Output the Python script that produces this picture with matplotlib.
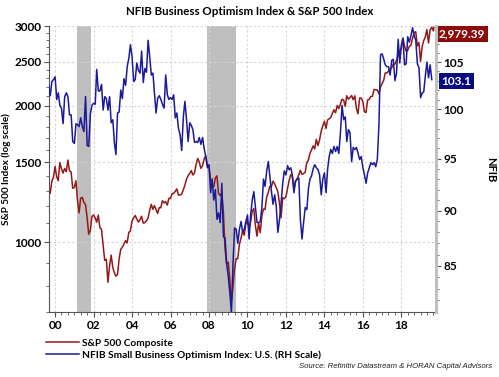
import pandas as pd
import matplotlib
matplotlib.use('Agg')
import matplotlib.pyplot as plt
import matplotlib.dates as mdates
import matplotlib.transforms as mtransforms
from matplotlib.ticker import FixedLocator, NullFormatter, FuncFormatter
from matplotlib.lines import Line2D

plt.rcParams['font.family'] = ['Lato', 'DejaVu Sans']

# S&P 500 month-end closes, Sep 1999 .. Aug 2019, then the latest print
sp500_close = [
    1282.7, 1362.9, 1388.9, 1469.3,
    1394.5, 1366.4, 1498.6, 1452.4, 1420.6, 1454.6, 1430.8, 1517.7, 1436.5, 1429.4, 1315.0, 1320.3,
    1366.0, 1239.9, 1160.3, 1249.5, 1255.8, 1224.4, 1211.2, 1133.6, 1040.9, 1059.8, 1139.5, 1148.1,
    1130.2, 1106.7, 1147.4, 1076.9, 1067.1, 989.8, 911.6, 916.1, 815.3, 885.8, 936.3, 879.8,
    855.7, 841.2, 848.2, 916.9, 963.6, 974.5, 990.3, 1008.0, 996.0, 1050.7, 1058.2, 1111.9,
    1131.1, 1144.9, 1126.2, 1107.3, 1120.7, 1140.8, 1101.7, 1104.2, 1114.6, 1130.2, 1173.8, 1211.9,
    1181.3, 1203.6, 1180.6, 1156.9, 1191.5, 1191.3, 1234.2, 1220.3, 1228.8, 1207.0, 1249.5, 1248.3,
    1280.1, 1280.7, 1294.8, 1310.6, 1270.1, 1270.2, 1276.7, 1303.8, 1335.9, 1377.9, 1400.6, 1418.3,
    1438.2, 1406.8, 1420.9, 1482.4, 1530.6, 1503.4, 1455.3, 1474.0, 1526.8, 1549.4, 1481.1, 1468.4,
    1378.6, 1330.6, 1322.7, 1385.6, 1400.4, 1280.0, 1267.4, 1282.8, 1166.4, 968.8, 896.2, 903.3,
    825.9, 735.1, 797.9, 872.8, 919.1, 919.3, 987.5, 1020.6, 1057.1, 1036.2, 1095.6, 1115.1,
    1073.9, 1104.5, 1169.4, 1186.7, 1089.4, 1030.7, 1101.6, 1049.3, 1141.2, 1183.3, 1180.6, 1257.6,
    1286.1, 1327.2, 1325.8, 1363.6, 1345.2, 1320.6, 1292.3, 1218.9, 1131.4, 1253.3, 1247.0, 1257.6,
    1312.4, 1365.7, 1408.5, 1397.9, 1310.3, 1362.2, 1379.3, 1406.6, 1440.7, 1412.2, 1416.2, 1426.2,
    1498.1, 1514.7, 1569.2, 1597.6, 1630.7, 1606.3, 1685.7, 1633.0, 1681.6, 1756.5, 1805.8, 1848.4,
    1782.6, 1859.5, 1872.3, 1884.0, 1923.6, 1960.2, 1930.7, 2003.4, 1972.3, 2018.1, 2067.6, 2058.9,
    1995.0, 2104.5, 2067.9, 2085.5, 2107.4, 2063.1, 2103.8, 1972.2, 1920.0, 2079.4, 2080.4, 2043.9,
    1940.2, 1932.2, 2059.7, 2065.3, 2097.0, 2098.9, 2173.6, 2171.0, 2168.3, 2126.2, 2198.8, 2238.8,
    2278.9, 2363.6, 2362.7, 2384.2, 2411.8, 2423.4, 2470.3, 2471.7, 2519.4, 2575.3, 2647.6, 2673.6,
    2823.8, 2713.8, 2640.9, 2648.1, 2705.3, 2718.4, 2816.3, 2901.5, 2914.0, 2711.7, 2760.2, 2506.9,
    2704.1, 2784.5, 2834.4, 2945.8, 2752.1, 2941.8, 2980.4, 2926.5,
]
sp500_last = 2979.39
sp500_last_date = '2019-09-10'

# NFIB Small Business Optimism Index, Sep 1999 .. Aug 2019
nfib = [
    102.5, 101.4, 102.9, 103.1,
    103.4, 101.0, 101.7, 100.4, 100.1, 98.5, 101.3, 101.7, 101.3, 99.4, 99.4, 96.7,
    96.5, 98.5, 98.4, 98.2, 99.1, 98.2, 97.7, 101.3, 96.3, 96.2, 99.5, 100.4,
    100.6, 100.5, 104.2, 101.9, 101.9, 102.6, 99.9, 101.3, 101.1, 99.9, 101.3, 98.6,
    98.9, 96.5, 95.4, 99.6, 99.7, 102.0, 101.1, 103.2, 102.5, 104.5, 105.4, 106.9,
    105.6, 102.9, 103.1, 104.9, 104.1, 103.8, 106.2, 102.8, 104.3, 103.9, 107.4, 105.6,
    103.6, 103.8, 101.7, 99.6, 101.1, 101.4, 101.0, 100.5, 100.1, 103.6, 101.5, 101.0,
    101.2, 101.0, 101.5, 99.1, 99.6, 98.0, 97.4, 95.8, 99.2, 100.8, 98.9, 96.7,
    98.6, 98.3, 97.9, 96.6, 96.7, 96.6, 97.1, 96.4, 97.1, 96.0, 95.2, 94.1,
    94.4, 91.7, 93.0, 91.0, 92.0, 89.2, 89.8, 88.9, 92.6, 87.6, 87.5, 85.2,
    84.1, 82.6, 81.0, 85.2, 88.4, 88.3, 87.0, 88.3, 89.0, 88.0, 88.3, 89.0,
    89.6, 87.4, 89.6, 91.0, 91.8, 90.3, 88.9, 88.9, 89.0, 90.3, 93.0, 92.3,
    93.8, 94.7, 93.3, 91.8, 90.6, 91.5, 90.4, 88.0, 89.2, 90.7, 92.6, 93.8,
    93.4, 94.3, 93.9, 94.1, 93.4, 91.7, 92.8, 93.0, 93.1, 89.2, 87.4, 88.9,
    90.3, 90.1, 92.0, 93.0, 93.3, 94.0, 94.4, 94.1, 93.9, 93.4, 91.5, 93.0,
    93.6, 91.7, 93.9, 95.2, 95.9, 95.5, 96.2, 95.7, 96.2, 95.5, 97.6, 100.4,
    98.9, 99.2, 96.7, 97.9, 97.6, 94.7, 96.1, 95.9, 96.1, 95.5, 94.9, 95.2,
    94.1, 93.4, 92.6, 93.6, 94.1, 94.6, 94.4, 94.6, 94.2, 94.9, 98.4, 105.8,
    105.9, 105.3, 104.7, 104.5, 104.5, 103.6, 105.2, 105.3, 103.0, 103.8, 107.5, 104.9,
    106.9, 107.6, 104.7, 104.8, 107.8, 107.2, 107.9, 108.8, 107.9, 107.4, 104.8, 104.4,
    101.2, 101.7, 101.8, 103.5, 105.0, 103.3, 104.7, 103.1,
]

recessions = [('2001-03-01', '2001-11-15'), ('2007-12-01', '2009-06-01')]

sp_ticks = [1000, 1500, 2000, 2500, 3000]
nfib_ticks = [85, 90, 95, 100, 105]

red = '#941818'
blue = '#1a1a9a'

sp_dates = list(pd.date_range('1999-09-30', periods=len(sp500_close), freq='ME')) + [pd.Timestamp(sp500_last_date)]
sp_vals = sp500_close + [sp500_last]
nfib_dates = pd.date_range('1999-09-01', periods=len(nfib), freq='MS')

fig = plt.figure(figsize=(4.99, 3.77), dpi=100)
ax = fig.add_axes([0.0988, 0.1716, 0.7744, 0.7594])
ax2 = ax.twinx()

for start, end in recessions:
    ax.axvspan(pd.Timestamp(start), pd.Timestamp(end), color='#bfbfbf', lw=0, zorder=0)

ax.plot(sp_dates, sp_vals, color=red, lw=1.1, zorder=3)
ax2.plot(nfib_dates, nfib, color=blue, lw=1.1, zorder=3)

ax.set_yscale('log')
ax.set_ylim(700, 3000)
ax.yaxis.set_major_locator(FixedLocator(sp_ticks))
ax.yaxis.set_minor_locator(FixedLocator([v for v in range(700, 3000, 100) if v not in sp_ticks]))
ax.yaxis.set_major_formatter(FuncFormatter(lambda v, p: f'{v:.0f}'))
ax.yaxis.set_minor_formatter(NullFormatter())

ax2.set_yscale('log')
ax2.set_ylim(81, 109)
ax2.yaxis.set_major_locator(FixedLocator(nfib_ticks))
ax2.yaxis.set_minor_locator(FixedLocator([v for v in range(82, 109) if v not in nfib_ticks]))
ax2.yaxis.set_major_formatter(FuncFormatter(lambda v, p: f'{v:.0f}'))
ax2.yaxis.set_minor_formatter(NullFormatter())

ax.set_xlim(pd.Timestamp('1999-09-13'), pd.Timestamp('2019-10-15'))
ax.xaxis.set_major_locator(mdates.YearLocator(2))
ax.xaxis.set_major_formatter(mdates.DateFormatter('%y'))
ax.xaxis.set_minor_locator(mdates.MonthLocator(bymonth=[1, 5, 9]))

ax.grid(True, which='major', color='#d4d4d4', ls=(0, (2, 2)), lw=0.8)
ax.set_axisbelow(True)

for a in (ax, ax2):
    a.tick_params(which='major', length=3.5, width=0.8, color='#555555', labelsize=8.5, pad=2)
    a.tick_params(which='minor', length=2, width=0.6, color='#555555')
    a.spines['top'].set_visible(False)
    for lab in a.get_xticklabels() + a.get_yticklabels():
        lab.set_fontweight('bold')
ax.spines['right'].set_visible(False)
ax2.spines['left'].set_visible(False)
ax2.spines['bottom'].set_visible(False)
ax.spines['left'].set_color('#555555')
ax.spines['bottom'].set_color('#555555')
ax2.spines['right'].set_color('#c0c0c0')
ax2.spines['right'].set_linewidth(2.2)

ax.set_ylabel('S&P 500 Index (log scale)', fontsize=7.2, fontweight='bold')
ax.yaxis.set_label_coords(-0.100, 0.5)
ax2.set_ylabel('NFIB', fontsize=8, fontweight='bold', rotation=270, va='center')
ax2.yaxis.set_label_coords(1.143, 0.5)
fig.suptitle('NFIB Business Optimism Index & S&P 500 Index', x=0.5, y=0.984,
             fontsize=8.3, fontweight='bold')

trans_r = mtransforms.blended_transform_factory(ax2.transAxes, ax.transData)
ax.annotate(f'{sp500_last:,.2f}', xy=(1.0, sp500_last), xycoords=trans_r,
            xytext=(19, -5), textcoords='offset points', ha='center', va='center',
            color='white', fontsize=8.5, fontweight='bold', annotation_clip=False,
            bbox=dict(boxstyle='square,pad=0.22', fc='#8b0a0a', ec='none'))
trans_b = mtransforms.blended_transform_factory(ax2.transAxes, ax2.transData)
ax2.annotate(f'{nfib[-1]:.1f}', xy=(1.0, nfib[-1]), xycoords=trans_b,
             xytext=(15, -1), textcoords='offset points', ha='center', va='center',
             color='white', fontsize=8.5, fontweight='bold', annotation_clip=False,
             bbox=dict(boxstyle='square,pad=0.22', fc='#0a0a80', ec='none'))

handles = [Line2D([], [], color=red, lw=1.1), Line2D([], [], color=blue, lw=1.1)]
fig.legend(handles, ['S&P 500 Composite', 'NFIB Small Business Optimism Index: U.S. (RH Scale)'],
           loc='upper left', bbox_to_anchor=(0.085, 0.112), frameon=False,
           handlelength=3.2, handletextpad=0.35, labelspacing=0.25, borderaxespad=0,
           prop={'weight': 'bold', 'size': 7.3})
fig.text(0.986, 0.018, 'Source: Refinitiv Datastream & HORAN Capital Advisors', ha='right', va='bottom',
         fontsize=5.6, style='italic', family='Liberation Sans', color='#222222')

fig.savefig('out.png', dpi=100)
